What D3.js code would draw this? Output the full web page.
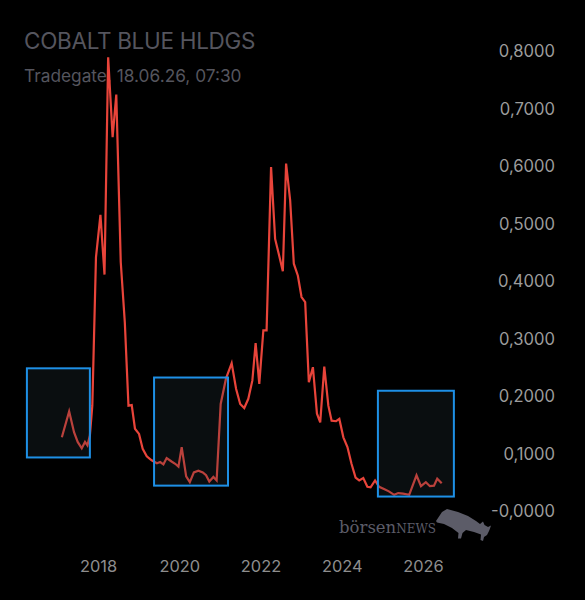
<!DOCTYPE html>
<html>
<head>
<meta charset="utf-8">
<script src="https://cdn.jsdelivr.net/npm/d3@7"></script>
<style>
  html, body { margin: 0; padding: 0; background: #000; }
  svg { display: block; }
</style>
</head>
<body>
<div id="chart"></div>
<script>
(function () {
  'use strict';

  var title = 'COBALT BLUE HLDGS',
      subtitle = 'Tradegate, 18.06.26, 07:30';

  // decimal years / price in EUR
  var years = [
    2017.11, 2017.29, 2017.41, 2017.50, 2017.60, 2017.68, 2017.74, 2017.80, 2017.86, 2017.95,
    2018.06, 2018.16, 2018.25, 2018.36, 2018.45, 2018.56, 2018.66, 2018.75, 2018.83, 2018.91,
    2019.01, 2019.10, 2019.20, 2019.32, 2019.45, 2019.53, 2019.61, 2019.69, 2019.81, 2019.90,
    2019.98, 2020.06, 2020.17, 2020.26, 2020.36, 2020.47, 2020.58, 2020.66, 2020.74, 2020.84,
    2020.92, 2021.02, 2021.15, 2021.29, 2021.40, 2021.50, 2021.60, 2021.70, 2021.80, 2021.88,
    2021.97, 2022.07, 2022.15, 2022.26, 2022.36, 2022.45, 2022.55, 2022.63, 2022.73, 2022.82,
    2022.92, 2023.01, 2023.10, 2023.19, 2023.29, 2023.39, 2023.47, 2023.57, 2023.67, 2023.75,
    2023.86, 2023.94, 2024.04, 2024.14, 2024.24, 2024.34, 2024.43, 2024.53, 2024.63, 2024.71,
    2024.82, 2024.92, 2025.04, 2025.16, 2025.29, 2025.39, 2025.51, 2025.66, 2025.84, 2025.95,
    2026.07, 2026.17, 2026.27, 2026.35, 2026.46
  ];
  var prices = [
    0.129, 0.174, 0.138, 0.121, 0.110, 0.121, 0.115, 0.132, 0.184, 0.442,
    0.516, 0.412, 0.790, 0.651, 0.725, 0.434, 0.329, 0.184, 0.185, 0.144,
    0.135, 0.109, 0.096, 0.089, 0.084, 0.086, 0.082, 0.093, 0.087, 0.083,
    0.078, 0.112, 0.061, 0.051, 0.068, 0.071, 0.068, 0.063, 0.052, 0.060,
    0.054, 0.187, 0.231, 0.258, 0.213, 0.187, 0.180, 0.196, 0.228, 0.293,
    0.222, 0.315, 0.315, 0.599, 0.474, 0.448, 0.418, 0.605, 0.541, 0.431,
    0.410, 0.373, 0.364, 0.225, 0.251, 0.170, 0.155, 0.252, 0.184, 0.158,
    0.157, 0.161, 0.129, 0.112, 0.083, 0.059, 0.054, 0.058, 0.043, 0.042,
    0.054, 0.043, 0.039, 0.035, 0.029, 0.032, 0.031, 0.029, 0.063, 0.044,
    0.051, 0.044, 0.045, 0.057, 0.049
  ];

  // highlight boxes, in data units
  var boxStart = [2016.25, 2019.38, 2024.89],
      boxEnd = [2017.80, 2021.20, 2026.76],
      boxTop = [0.249, 0.233, 0.210],
      boxBottom = [0.094, 0.045, 0.026];

  var xTicks = [2018, 2020, 2022, 2024, 2026];
  var yTicks = [0, 0.1, 0.2, 0.3, 0.4, 0.5, 0.6, 0.7, 0.8];
  var yTickLabels = ['-0,0000', '0,1000', '0,2000', '0,3000', '0,4000', '0,5000', '0,6000', '0,7000', '0,8000'];

  var width = 585,
      height = 600;

  var x = d3.scaleLinear().domain([2018, 2026]).range([98, 423]);
  var y = d3.scaleLinear().domain([0, 0.8]).range([511.5, 51.5]);

  var svg = d3.select('#chart').append('svg')
      .attr('width', width)
      .attr('height', height)
      .style('background', '#000');

  svg.append('text')
      .attr('x', 24)
      .attr('y', 48.5)
      .attr('fill', '#55555e')
      .style('font-family', 'Inter, sans-serif')
      .style('font-size', '22.5px')
      .style('letter-spacing', '-0.3px')
      .text(title);

  svg.append('text')
      .attr('x', 24)
      .attr('y', 82)
      .attr('fill', '#55555e')
      .style('font-family', 'Inter, sans-serif')
      .style('font-size', '17.3px')
      .text(subtitle);

  var yAxis = d3.axisRight(y)
      .tickValues(yTicks)
      .tickSize(0)
      .tickPadding(0)
      .tickFormat(function (d, i) { return yTickLabels[i]; });

  var gy = svg.append('g')
      .attr('transform', 'translate(555,0)')
      .call(yAxis);
  gy.select('.domain').remove();
  gy.selectAll('text')
      .attr('text-anchor', 'end')
      .attr('fill', '#9c9c9c')
      .style('font-family', 'Inter, sans-serif')
      .style('font-size', '16.6px');

  var xAxis = d3.axisBottom(x)
      .tickValues(xTicks)
      .tickSize(0)
      .tickPadding(0)
      .tickFormat(d3.format('d'));

  var gx = svg.append('g')
      .attr('transform', 'translate(0,560)')
      .call(xAxis);
  gx.select('.domain').remove();
  gx.selectAll('text')
      .attr('fill', '#8e8e8e')
      .style('font-family', 'Inter, sans-serif')
      .style('font-size', '16.4px');

  var points = years.map(function (d, i) { return [d, prices[i]]; });

  var line = d3.line()
      .x(function (d) { return x(d[0]); })
      .y(function (d) { return y(d[1]); });

  svg.append('path')
      .datum(points)
      .attr('d', line)
      .attr('fill', 'none')
      .attr('stroke', '#e8443a')
      .attr('stroke-width', 2.2)
      .attr('stroke-linejoin', 'miter');

  svg.selectAll('.box')
      .data(boxStart)
      .enter()
      .append('rect')
      .attr('class', 'box')
      .attr('x', function (d) { return x(d); })
      .attr('y', function (d, i) { return y(boxTop[i]); })
      .attr('width', function (d, i) { return x(boxEnd[i]) - x(d); })
      .attr('height', function (d, i) { return y(boxBottom[i]) - y(boxTop[i]); })
      .attr('fill', 'rgba(40,58,68,0.24)')
      .attr('stroke', '#1e90e6')
      .attr('stroke-width', 2);

  // boersenNEWS logo
  var logo = svg.append('g').attr('transform', 'translate(339,533)');
  logo.append('text')
      .attr('fill', '#5c5c68')
      .style('font-family', 'DejaVu Serif, serif')
      .style('font-size', '16.5px')
      .text('börsen')
      .append('tspan')
      .style('font-size', '12px')
      .text('NEWS');

  var bull = [[0, 16], [6, 7], [11, 4], [22, 7], [32, 11], [40, 16], [44, 19], [47, 16.5],
    [48.5, 20], [52, 22], [55, 20.5], [54, 23.5], [53, 26], [51, 30], [48, 32], [47, 36],
    [44.5, 35], [45, 29.5], [38, 27], [30, 25], [26.5, 28], [25, 33.5], [22, 33.5], [22.5, 28],
    [16, 23], [8, 19], [1, 17.5]];
  svg.append('path')
      .attr('transform', 'translate(436,505)')
      .attr('d', 'M' + bull.join('L') + 'Z')
      .attr('fill', '#5c5c68');
}());
</script>
</body>
</html>
